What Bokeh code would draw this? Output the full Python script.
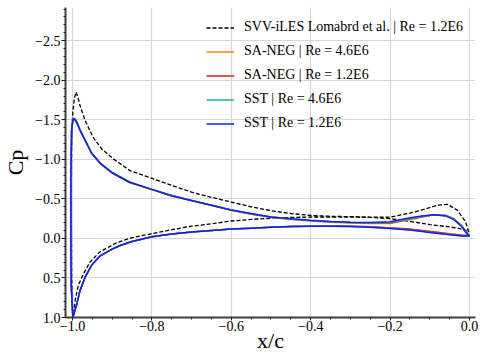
from bokeh.plotting import figure
from bokeh.models import Range1d, FixedTicker, Legend, LegendItem
from bokeh.embed import file_html
from bokeh.resources import INLINE
import numpy as np

# ---------------- data ----------------
x_upper = [-0.999, -1.003, -1.004, -1.004, -1.002, -0.999, -0.995, -0.989, -0.981, -0.968,
           -0.952, -0.930, -0.900, -0.856, -0.800, -0.750, -0.700, -0.650, -0.600, -0.550,
           -0.500, -0.450, -0.400, -0.350, -0.300, -0.250, -0.200, -0.150, -0.120, -0.090,
           -0.060, -0.040, -0.020, -0.005, 0.000]
x_lower = [-0.999, -0.989, -0.981, -0.968, -0.952, -0.930, -0.900, -0.880, -0.850, -0.800,
           -0.750, -0.700, -0.650, -0.600, -0.550, -0.500, -0.450, -0.400, -0.350, -0.300,
           -0.250, -0.200, -0.150, -0.100, -0.050, -0.020, 0.000]

sst12_up = [1.00, 0.60, 0.00, -0.80, -1.37, -1.50, -1.515, -1.47, -1.37, -1.24,
            -1.08, -0.95, -0.83, -0.71, -0.62, -0.54, -0.48, -0.42, -0.36, -0.315,
            -0.27, -0.25, -0.23, -0.215, -0.205, -0.20, -0.21, -0.26, -0.285, -0.30,
            -0.285, -0.24, -0.15, -0.05, -0.03]
sst46_up = [1.00, 0.60, 0.00, -0.80, -1.38, -1.51, -1.52, -1.48, -1.38, -1.245,
            -1.085, -0.955, -0.835, -0.715, -0.62, -0.545, -0.48, -0.42, -0.36, -0.31,
            -0.27, -0.245, -0.225, -0.21, -0.20, -0.195, -0.20, -0.25, -0.28, -0.30,
            -0.29, -0.245, -0.155, -0.055, -0.03]
saneg46_up = [1.00, 0.60, 0.00, -0.80, -1.36, -1.49, -1.505, -1.46, -1.365, -1.235,
              -1.075, -0.945, -0.825, -0.705, -0.615, -0.535, -0.475, -0.415, -0.355, -0.305,
              -0.265, -0.24, -0.22, -0.205, -0.195, -0.19, -0.19, -0.235, -0.27, -0.295,
              -0.29, -0.25, -0.165, -0.065, -0.035]
saneg12_up = [1.00, 0.60, 0.00, -0.80, -1.37, -1.50, -1.51, -1.465, -1.37, -1.24,
              -1.08, -0.95, -0.83, -0.71, -0.62, -0.54, -0.48, -0.42, -0.36, -0.31,
              -0.27, -0.245, -0.225, -0.21, -0.20, -0.195, -0.195, -0.245, -0.275, -0.298,
              -0.29, -0.248, -0.16, -0.06, -0.035]

sst12_lo = [1.00, 0.83, 0.66, 0.49, 0.34, 0.22, 0.135, 0.09, 0.04, -0.02,
            -0.055, -0.08, -0.10, -0.12, -0.13, -0.14, -0.15, -0.155, -0.155, -0.15,
            -0.14, -0.125, -0.105, -0.075, -0.045, -0.03, -0.03]
sst46_lo = [1.00, 0.83, 0.66, 0.49, 0.34, 0.22, 0.135, 0.09, 0.04, -0.02,
            -0.055, -0.08, -0.10, -0.12, -0.13, -0.14, -0.15, -0.155, -0.155, -0.15,
            -0.14, -0.127, -0.108, -0.078, -0.048, -0.032, -0.03]
saneg46_lo = [1.00, 0.83, 0.66, 0.49, 0.34, 0.22, 0.135, 0.09, 0.04, -0.02,
              -0.055, -0.08, -0.10, -0.12, -0.13, -0.14, -0.15, -0.155, -0.158, -0.155,
              -0.148, -0.135, -0.118, -0.09, -0.06, -0.042, -0.035]
saneg12_lo = [1.00, 0.83, 0.66, 0.49, 0.34, 0.22, 0.135, 0.09, 0.04, -0.02,
              -0.055, -0.08, -0.10, -0.12, -0.13, -0.14, -0.15, -0.155, -0.157, -0.153,
              -0.146, -0.133, -0.115, -0.087, -0.057, -0.04, -0.035]

x_svv_up = [-0.999, -1.002, -1.003, -1.002, -0.999, -0.995, -0.991, -0.986, -0.981, -0.968,
            -0.948, -0.926, -0.898, -0.856, -0.800, -0.750, -0.700, -0.650, -0.600, -0.550,
            -0.500, -0.450, -0.400, -0.350, -0.300, -0.250, -0.200, -0.150, -0.120, -0.080,
            -0.055, -0.030, -0.010, -0.002]
svv_up = [1.00, 0.50, -0.50, -1.30, -1.60, -1.78, -1.85, -1.78, -1.68, -1.49,
          -1.28, -1.13, -1.01, -0.86, -0.76, -0.67, -0.585, -0.52, -0.46, -0.40,
          -0.35, -0.315, -0.29, -0.28, -0.275, -0.27, -0.27, -0.32, -0.36, -0.42,
          -0.43, -0.355, -0.21, -0.08]
x_svv_lo = [-0.999, -0.993, -0.985, -0.9725, -0.956, -0.931, -0.889, -0.850, -0.800, -0.750,
            -0.700, -0.650, -0.600, -0.550, -0.500, -0.450, -0.400, -0.350, -0.300, -0.250,
            -0.200, -0.150, -0.100, -0.050, -0.030, -0.010, -0.002]
svv_lo = [1.00, 0.78, 0.59, 0.45, 0.30, 0.17, 0.055, -0.01, -0.06, -0.11,
          -0.155, -0.185, -0.22, -0.24, -0.255, -0.265, -0.27, -0.27, -0.27, -0.265,
          -0.25, -0.215, -0.175, -0.145, -0.13, -0.105, -0.08]

series_labels = ["SVV-iLES Lomabrd et al. | Re = 1.2E6",
                 "SA-NEG | Re = 4.6E6",
                 "SA-NEG | Re = 1.2E6",
                 "SST | Re = 4.6E6",
                 "SST | Re = 1.2E6"]

x_ticks = [-1.0, -0.8, -0.6, -0.4, -0.2, 0.0]
x_tick_labels = ["\u22121.0", "\u22120.8", "\u22120.6", "\u22120.4", "\u22120.2", "0.0"]
y_ticks = [-2.5, -2.0, -1.5, -1.0, -0.5, 0.0, 0.5, 1.0]
y_tick_labels = ["\u22122.5", "\u22122.0", "\u22121.5", "\u22121.0", "\u22120.5", "0.0", "0.5", "1.0"]

# ---------------- figure ----------------
FONT = "Liberation Serif"
p = figure(width=480, height=358, output_backend="svg", toolbar_location=None,
           x_range=Range1d(-1.0175, 0.015), y_range=Range1d(1.0, -2.92),
           min_border_left=62, min_border_right=5, min_border_top=7, min_border_bottom=41)
p.outline_line_color = None
p.background_fill_color = "white"

def closed(xu, cu, xl, cl):
    xs = list(reversed(xu)) + list(xl[1:])
    ys = list(reversed(cu)) + list(cl[1:])
    return xs, ys

curves = [
    (closed(x_svv_up, svv_up, x_svv_lo, svv_lo), "black", "4 2", 1.3),
    (closed(x_upper, saneg46_up, x_lower, saneg46_lo), "#ff7f0e", "solid", 1.5),
    (closed(x_upper, saneg12_up, x_lower, saneg12_lo), "#e31a1c", "solid", 1.5),
    (closed(x_upper, sst46_up, x_lower, sst46_lo), "#20b5a5", "solid", 1.5),
    (closed(x_upper, sst12_up, x_lower, sst12_lo), "#1020f5", "solid", 1.5),
]

items = []
for (xy, col, dash, lw), lab in zip(curves, series_labels):
    r = p.line(xy[0], xy[1], line_color=col, line_dash=dash, line_width=lw)
    items.append(LegendItem(label=lab, renderers=[r]))

legend = Legend(items=items, location="top_right",
                label_text_font=FONT, label_text_font_size="14px",
                label_text_color="black",
                glyph_width=28, glyph_height=15, label_height=15, spacing=8,
                label_standoff=10, padding=4, margin=8,
                background_fill_alpha=0, border_line_alpha=0)
p.add_layout(legend)

# axes
p.xaxis.ticker = FixedTicker(ticks=x_ticks, minor_ticks=list(np.round(np.arange(-1.0, 0.0001, 0.05), 4)))
p.yaxis.ticker = FixedTicker(ticks=y_ticks, minor_ticks=list(np.round(np.arange(-2.9, 1.0001, 0.1), 4)))
p.xaxis.major_label_overrides = dict(zip(x_ticks, x_tick_labels))
p.yaxis.major_label_overrides = dict(zip(y_ticks, y_tick_labels))

for ax in (p.xaxis[0], p.yaxis[0]):
    ax.axis_line_color = "#404040"
    ax.axis_line_width = 2
    ax.major_tick_line_color = "#202020"
    ax.minor_tick_line_color = "#202020"
    ax.major_tick_in = 0
    ax.minor_tick_in = 0
    ax.minor_tick_out = 2
    ax.major_label_text_font = FONT
    ax.major_label_text_font_size = "14px"
    ax.major_label_text_color = "black"
    ax.axis_label_text_font = FONT
    ax.axis_label_text_font_style = "normal"
    ax.axis_label_text_color = "black"
    ax.axis_label_text_font_size = "22px"

p.xaxis.axis_label = "x/c"
p.xaxis.major_tick_out = 3
p.xaxis.major_label_standoff = 0
p.xaxis.axis_label_standoff = -6

p.yaxis.axis_label = "Cp"
p.yaxis.major_tick_out = 4
p.yaxis.major_label_standoff = 1
p.yaxis.axis_label_standoff = 4

p.grid.grid_line_color = "#d6d6d6"
p.grid.grid_line_width = 1.2

open("out.html", "w").write(file_html(p, INLINE))
